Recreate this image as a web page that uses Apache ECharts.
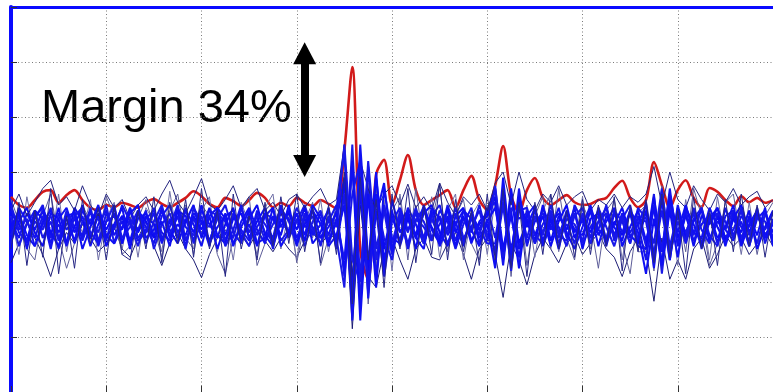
<!DOCTYPE html>
<html>
<head>
<meta charset="utf-8">
<title>Margin 34%</title>
<script src="https://cdn.jsdelivr.net/npm/echarts@6/dist/echarts.min.js"></script>
<style>
  html, body { margin: 0; padding: 0; background: #fff; }
  #chart { width: 773px; height: 392px; }
</style>
</head>
<body>
<div id="chart"></div>
<script>
// x runs 0..8 in steps of 1/12, y is in hundredths (-300..400)
var xStep = 1 / 12;

var redTrace = [55, 40, 35, 49, 64, 67, 44, 58, 67, 49, 35, 31, 40, 36, 44, 40, 35, 45, 51, 42,
    36, 44, 53, 65, 56, 42, 36, 53, 47, 38, 49, 62, 53, 36, 44, 38, 53, 44, 38, 49, 42,
    33, 140, 291, -42, -96, 95, 122, 40,
    85, 131, 67, 40, 49, 58, 67, 35, 67, 93, 49, 31,
    76, 147, 58, 27,
    67, 89, 53, 40, 49, 58, 45, 40, 42, 49, 53, 71, 84, 53, 36,
    49, 118, 76, 35, 67,
    85, 53, 36, 71, 64, 49, 38, 56, 45, 53, 44, 49];

var blueCore1 = [10, -20, 25, -5, 30, -30, 15, 35, -10, 20, -35, 5, 30, -15, 10, -25, 25, 0, -30, 20,
    40, -10, 15, -25, 30, 5, -20, 25, -35, 10, 35, -5, -30, 20, 0, 30, -20, 15, -10, 25, -15,
    30, 140, -170, 100, -120, 60, -60, 20,
    -25, 35, 5, -30, 20, 40, -15, 10, -35, 25, -5, 30,
    45, -70, 60, -40,
    15, -25, 35, 0, -20, 30, -10, 20, -30, 10, 35, -15, 25, -20, 5,
    40, -75, 55, -45, 20,
    -10, 25, -30, 15, 35, -5, -25, 20, 0, 30, -15, 10];

var blueCore2 = [-15, 20, -30, 10, -5, 35, -20, 5, 30, -25, 15, -10, 40, -30, 20, 5, -35, 15, 30, -10,
    -25, 35, 0, -15, 20, -30, 25, 10, -20, 35, -10, 20, -25, 5, 30, -20, 10, 40, -5, -30, 15,
    -20, -110, 150, -140, 110, -90, 40, -40,
    20, -30, 10, 35, -20, 5, 30, -25, 15, -10, 40, -15,
    -40, 65, -80, 45,
    -20, 30, -10, 25, -30, 15, 5, -25, 35, -5, -20, 30, 10, -30, 20,
    -35, 60, -85, 40, -30,
    20, -15, 35, -25, 10, -5, 30, -20, 15, -30, 25, -10];

var blueCore3 = [25, 5, -25, 30, 15, -15, 35, -30, 0, 40, -20, 20, -5, 25, -30, 35, -10, 20, 5, -25,
    10, 30, -35, 20, -5, 35, -15, -30, 15, 25, -20, 10, 35, -30, 15, -10, 25, -25, 30, 5, -30,
    10, 90, -120, 130, -70, 100, -80, 50,
    -10, 20, -40, 30, 0, -25, 35, -10, 20, -30, 10, 25,
    70, -40, 30, -75,
    30, -15, 20, -35, 10, 40, -20, 15, -10, 30, -25, 5, 35, -15, -30,
    30, -55, 50, -60, 35,
    -20, 10, 30, -25, 20, -35, 15, 40, -10, 25, -20, 5];

var blueCore4 = [-30, 35, 10, -20, 20, -40, 25, -5, 15, -20, 30, -35, 10, 20, -5, 35, -20, -5, 25, -30,
    15, -20, 30, 5, -35, 20, 35, -15, 25, -5, -25, 30, -10, -25, 35, 10, -30, 25, -15, 5, 30,
    -40, 60, -150, 80, -100, 30, -90, 10,
    35, -5, 25, -20, 30, -35, 0, 25, -25, 15, -5, -30,
    -30, 45, -60, 70,
    -30, 10, 25, -5, 35, -20, 25, -30, 0, 20, -35, 25, -10, 30, 5,
    -60, 40, -45, 70, -35,
    30, -25, 5, 20, -30, 35, -15, 10, -35, 15, 30, -20];

var blueCore5 = [40, -5, 15, -35, 5, 20, -25, 30, -30, 10, 25, 15, -25, 35, -20, 0, 30, -30, 10, 40,
    -15, 20, -40, 35, 10, -25, 15, 40, -10, -30, 25, -15, 20, 35, -25, -5, 35, 0, 20, -35, 20,
    0, 150, -60, -100, 120, -40, 30, -50,
    15, -35, 30, 10, -25, 20, -10, 35, -20, 0, 30, -25,
    75, -55, 35, 15,
    25, -30, 5, 30, -15, -25, 20, 35, -30, 10, 25, -20, 15, -30, 35,
    15, -30, 70, -50, 10,
    -25, 35, -5, -30, 25, 10, -20, 35, -15, 20, -5, 25];

var blueCore6 = [0, 30, -40, 20, 35, -10, -35, 20, 25, -40, 0, 35, -20, 5, 35, -30, 15, 25, -15, 10,
    -35, 30, 20, -10, 40, -30, 0, 20, 30, -20, 5, -35, 25, 15, -15, 40, -30, 5, 30, -20, 0,
    25, -80, 120, -170, 60, -110, 70, -20,
    -30, 25, -15, 40, -5, -30, 20, -35, 30, 15, -20, 5,
    -75, 90, -50, 55,
    0, 35, -25, 15, -40, 25, -5, -15, 30, -35, 20, 0, -25, 30, -10,
    -85, 15, -65, 30, -55,
    35, 5, -35, 25, -20, 0, 40, -30, 20, -15, 35, -35];

var blueCore7 = [20, -35, 5, 30, -20, 10, -40, 25, 0, -15, 35, -25, 10, 40, -30, 15, -5, 30, -40, 5,
    25, -20, 35, -30, 10, 0, 30, -25, 20, -10, -35, 25, 5, -20, 40, -15, 15, -35, 10, 30, -25,
    15, -60, 110, -90, 70, -60, 40, -30,
    25, -10, 35, -30, 15, -20, 40, -5, -30, 20, -15, 35,
    -20, 60, -50, 45,
    -35, 20, -15, 40, -10, 5, -30, 25, -20, 35, 0, -35, 15, 40, -25,
    45, -50, 30, -60, 40,
    -15, 30, -40, 10, 25, -20, -5, 30, -35, 20, 10, -25];

var blueCore8 = [-25, 10, 35, -10, -35, 25, 15, -30, 35, 10, -20, 25, -35, 0, 20, -40, 30, 10, -20, 35,
    -5, -30, 10, 40, -20, 20, -40, 5, 35, -25, 15, 40, -15, -35, 10, 25, -5, 35, -30, -10, 35,
    -30, 80, -100, 60, -80, 90, -40, 30,
    -35, 15, -20, 25, 40, -10, -35, 20, 35, -25, 5, 20,
    55, -60, 70, -30,
    10, -30, 40, -25, 20, -5, 35, -40, 15, 25, -30, 10, -15, 25, -35,
    -40, 55, -45, 60, -20,
    25, -35, 20, 5, 35, -25, 15, -10, 30, -40, 0, 30];

var blueCore9 = [35, -10, -25, 15, 40, -20, 5, -35, 20, 35, -10, -30, 25, -5, 40, 10, -25, -10, 35, -20,
    0, 40, -25, 15, -15, 30, 20, -35, -5, 40, -20, 0, 25, -40, 30, 15, -35, 20, 0, -20, 10,
    40, -90, 60, 120, -130, 50, -20, -60,
    30, -40, 15, 0, -25, 30, 10, -40, 5, 35, -30, 15,
    -50, 40, -70, 30,
    35, -15, -30, 20, 0, -35, 40, 10, -20, -5, 40, -25, 20, -10, 15,
    10, -60, 65, -35, 25,
    -30, 15, 35, -15, -35, 20, 30, 0, -25, 35, -30, 15];

var blueCore10 = [-5, 25, -15, -35, 10, 30, -10, 15, -25, 30, 5, 40, -15, -30, 0, 25, 40, -20, -5, 30,
    -20, 5, -15, 25, 10, -35, 35, 15, -30, 0, 30, -30, -20, 35, -35, -10, 25, -15, 40, 15, -35,
    -15, 40, -130, 150, -60, 20, 80, -45,
    10, 30, -20, -40, 35, 15, -30, 5, 30, -5, -35, 10,
    35, -45, 20, -55,
    20, 40, -35, 5, 25, -10, -40, 0, 40, -15, 10, 35, -35, 0, 30,
    -25, 35, -70, 50, -10,
    40, -10, -20, 35, 0, -30, 25, -35, 5, 30, -20, -5];

var blueOuter1 = [-65, -30, 10, -20, -50, -90, -40, -10, -30, 5, -20, -45, -30, 0, -40, -55, -20, 10, -35, -70,
    -30, -10, -40, -60, -92, -50, -20, -5, -30, -15, -35, -10, -25, -45, -20, -40, -55, -25, -10, -30, -15,
    -20, 60, -185, 40, -90, -110, -40, -20,
    -60, -95, -40, -20, -55, -60, -30, -10, -50, -95, -40, -20,
    -50, -128, -30, -60,
    -105, -50, -20, -40, -65, -30, -15, -50, -30, -10, -40, -55, -90, -45, -20,
    -40, -135, -20, -95, -60,
    -95, -40, -20, -75, -50, -15, -35, -20, -50, -30, -10, -35];

var blueOuter2 = [30, 60, 20, 45, 70, 85, 40, 55, 30, 75, 40, 20, 60, 35, 50, 15, 40, 55, 30, 60,
    85, 45, 25, 55, 88, 40, 30, 50, 75, 35, 55, 70, 30, 45, 20, 50, 60, 35, 55, 70, 40,
    50, 150, -90, 120, 70, 30, 60, 75,
    40, 78, 35, 55, 30, 80, 45, 20, 55, 40, 60, 30,
    80, 100, 40, 100,
    50, 30, 60, 45, 75, 40, 55, 65, 30, 50, 40, 60, 35, 55, 45,
    60, 110, 40, 100, 50,
    35, 75, 50, 30, 60, 45, 70, 40, 55, 65, 35, 50];

var blueOuter3 = [50, 10, -40, -60, 20, 60, -20, -75, -30, 40, 10, -25, 55, 20, -50, -35, 15, 50, 0, -55,
    30, 60, -20, -40, 40, 20, -50, -85, -20, 30, 55, -70, -30, 20, -15, 40, -65, 10, 45, -70, -20,
    40, 130, -160, 125, -140, 70, -90, 30,
    55, -60, 70, -30, 10, 75, -45, 20, 50, -30, -60, 40,
    -70, 80, -90, 60,
    -70, 20, 55, -40, 70, -20, -60, 40, 10, -75, 30, 50, -30, -85, 25,
    40, -80, 75, -60, 30,
    -45, 70, 20, -70, -30, 45, 60, -25, 30, -50, 20, 45];

var blueOuter4 = [-40, 45, -70, 30, -55, 70, -85, 20, -75, 50, -30, 35, -60, 40, -50, -60, 30, -40, 55, -65,
    45, -30, 50, -55, 70, -40, 30, -90, 60, -40, 20, -60, 45, -35, 55, -30, 60, -45, 35, -65, 40,
    -50, 100, -140, 90, -60, 50, -110, 60,
    -40, 70, -65, 40, -50, 80, -60, 50, -45, 30, -70, 60,
    -60, 70, -75, 45,
    -90, 45, -50, 60, -40, 30, -55, 50, -50, 40, -35, 55, -80, 40, -45,
    50, -65, 60, -55, 30,
    -85, 55, -40, 30, -70, 50, -45, 60, -35, 40, -55, 30];

var blueOuter5 = [20, -50, 55, -20, 40, -35, 60, -45, 25, -10, 50, -60, 15, 45, -40, 30, -55, 35, 10, -45,
    65, -25, 40, -50, 30, 55, -45, 20, -60, 45, 5, -50, 35, 60, -40, 25, -60, 40, -20, 50, -45,
    30, -90, 100, -120, 80, -70, 50, -80,
    60, -40, 40, -20, 55, -55, 30, 60, -60, 20, 45, -50,
    50, -55, 70, -60,
    40, -55, 30, 60, -45, 20, -35, 55, -40, 35, -20, 50, -60, 30, -45,
    -45, 55, -60, 45, -70,
    50, -30, 40, -60, 55, -25, 30, -50, 45, -40, 25, -35];

// double-headed arrow, in data units
var arrowX = 3.083;
var arrowTop = 316;
var arrowBottom = 111;
var marginText = 'Margin 34%';

var chart, option;

function toPoints(values) {
    return values.map(function (v, i) {
        return [i * xStep, v];
    });
}

function traceSeries(values, color, width) {
    return {
        type: 'line',
        data: toPoints(values),
        showSymbol: false,
        symbol: 'none',
        silent: true,
        lineStyle: { color: color, width: width },
        emphasis: { disabled: true }
    };
}

function buildSeries() {
    var red = traceSeries(redTrace, '#d21a1a', 2.6);
    red.smooth = 0.3;
    red.markLine = {
        silent: true,
        symbol: ['triangle', 'triangle'],
        symbolSize: [23, 22],
        label: { show: false },
        lineStyle: { color: '#000', width: 8, type: 'solid' },
        emphasis: { disabled: true },
        data: [[{ coord: [arrowX, arrowTop] }, { coord: [arrowX, arrowBottom] }]]
    };

    return [
        red,
        traceSeries(blueOuter1, '#1c1c74', 1),
        traceSeries(blueOuter3, '#5c5c98', 1),
        traceSeries(blueOuter5, '#6e6ea6', 1),
        traceSeries(blueCore1, '#1212f0', 2),
        traceSeries(blueCore7, '#1a1ae8', 2),
        traceSeries(blueCore2, '#1a1ae6', 2),
        traceSeries(blueCore8, '#0c0cf0', 2),
        traceSeries(blueCore3, '#0c0cf5', 2),
        traceSeries(blueOuter2, '#22227e', 1),
        traceSeries(blueCore4, '#1414ee', 2),
        traceSeries(blueCore9, '#1616ea', 2),
        traceSeries(blueCore5, '#1818e8', 2),
        traceSeries(blueCore10, '#1010f2', 2),
        traceSeries(blueCore6, '#0f0ff2', 2),
        traceSeries(blueOuter4, '#262684', 1)
    ];
}

function initChart() {
    chart = echarts.init(document.getElementById('chart'), null, { renderer: 'canvas' });
    var dotted = { color: '#7a7a7a', width: 1, type: [1, 2.5] };
    option = {
        animation: false,
        backgroundColor: '#fff',
        grid: { left: 11, top: 7, width: 768, height: 385 },
        xAxis: [{
            type: 'value', min: 0, max: 8, interval: 1,
            axisLine: { show: false, onZero: false },
            axisTick: { show: true, inside: true, length: 6, lineStyle: { color: '#333' } },
            axisLabel: { show: false },
            splitLine: { show: true, lineStyle: dotted }
        }, {
            type: 'value', position: 'top', min: 0, max: 8, interval: 1,
            axisLine: { show: true, onZero: false, lineStyle: { color: '#0a0aff', width: 3 } },
            axisTick: { show: false },
            axisLabel: { show: false },
            splitLine: { show: false }
        }],
        yAxis: {
            type: 'value', min: -300, max: 400, interval: 100,
            axisLine: { show: true, onZero: false, lineStyle: { color: '#0a0aff', width: 4 } },
            axisTick: { show: true, inside: true, length: 6, lineStyle: { color: '#333' } },
            axisLabel: { show: false },
            splitLine: { show: true, lineStyle: dotted }
        },
        graphic: [{
            type: 'text',
            left: 41,
            top: 86,
            silent: true,
            style: {
                text: marginText,
                fill: '#000',
                font: '47px "Liberation Sans", Arial, sans-serif'
            }
        }],
        series: buildSeries()
    };
    chart.setOption(option);
}

initChart();
</script>
</body>
</html>
